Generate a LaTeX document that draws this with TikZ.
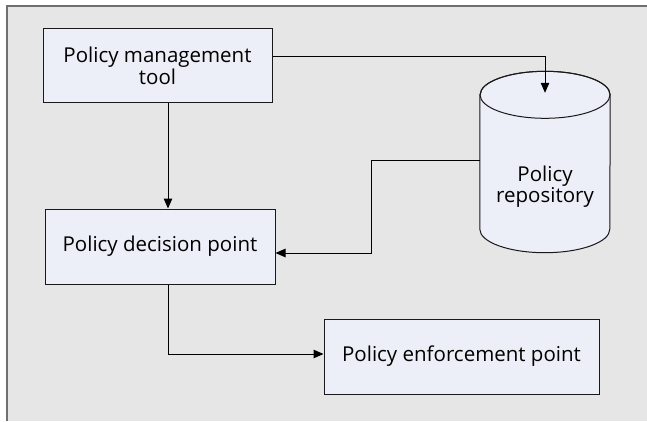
\documentclass[tikz,border=0pt]{standalone}
\usepackage{fontspec}
\setmainfont{Open Sans}
\usepackage{xcolor}
\usepackage{tikz}
\usetikzlibrary{arrows.meta, positioning, calc}
\definecolor{boxfill}{HTML}{ECEFF7}
\definecolor{panel}{HTML}{E6E6E6}
\definecolor{frameline}{HTML}{707070}
\tikzstyle{policybox} = [rectangle, draw=black!90, line width=1pt, fill=boxfill, align=center, inner sep=0pt, font=\fontsize{20.5}{24}\selectfont]
\tikzstyle{arrow} = [line width=1pt, draw=black, -{Triangle[length=10pt,width=8.5pt]}]

\begin{document}
\begin{tikzpicture}[x=1pt, y=1pt]
\useasboundingbox (0,0) rectangle (647,421);
% Grey panel with frame on top and left
\fill[panel] (7,0) rectangle (647,415);
\draw[frameline, line width=2pt] (7,0) -- (7,415) -- (647,415);

% Policy management tool
\node[policybox, minimum width=229pt, minimum height=74pt] (pmt) at (157.5,355) {\raisebox{-3pt}{\shortstack{Policy management\\[-2pt]tool}}};

% Policy decision point
\node[policybox, minimum width=230pt, minimum height=75pt] (pdp) at (160,174.5) {Policy decision point};

% Policy enforcement point
\node[policybox, minimum width=275pt, minimum height=75pt] (pep) at (461.5,64.5) {Policy enforcement point};

% Policy repository (cylinder)
\node[minimum width=130pt, minimum height=134pt, inner sep=0pt] (repo) at (545,259) {};
\filldraw[fill=boxfill, draw=black!90, line width=1pt]
  (repo.north west) -- (repo.south west) arc[start angle=180, end angle=360, x radius=65, y radius=23.5]
  -- (repo.north east) arc[start angle=0, end angle=180, x radius=65, y radius=23.5] -- cycle;
\draw[black!90, line width=1pt] (repo.north) ellipse[x radius=65, y radius=23.5];
\node[align=center, font=\fontsize{20.5}{24}\selectfont] (repotext) at ([yshift=-25pt]repo.center) {Policy\\[-3pt]repository};

% Connections
\draw[arrow] ([xshift=10.5pt]pmt.south) -- ([xshift=8pt]pdp.north);
\draw[arrow] ([yshift=9pt]pmt.east) -| ([yshift=2pt]repo.north);
\draw[arrow] ([yshift=2pt]repo.west) -- ++(-108,0) |- ([yshift=-6.5pt]pdp.east);
\draw[arrow] ([xshift=8pt]pdp.south) |- ([yshift=2.5pt]pep.west);
\end{tikzpicture}
\end{document}
